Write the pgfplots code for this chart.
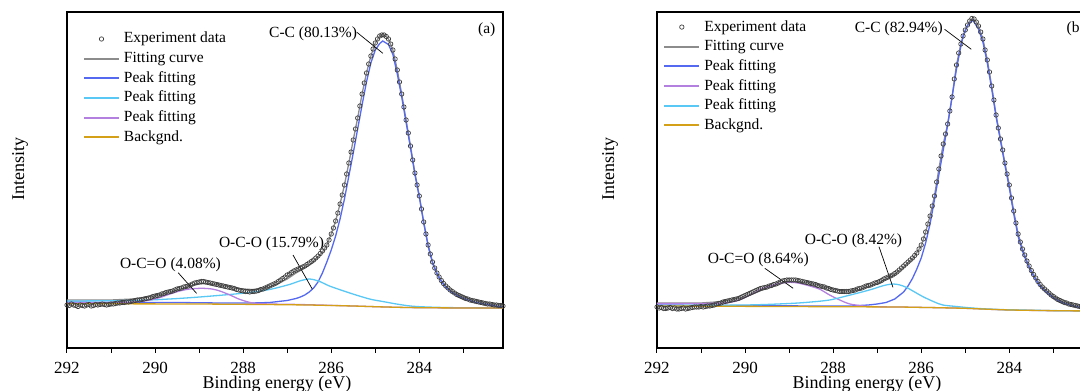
\documentclass[border=0pt]{standalone}
\usepackage{fontspec}
\setmainfont{Liberation Serif}
\usepackage{pgfplots}
\pgfplotsset{compat=1.18}
\definecolor{cblue}{RGB}{85,105,240}
\definecolor{clblue}{RGB}{90,200,245}
\definecolor{cpurple}{RGB}{180,128,224}
\definecolor{cgold}{RGB}{212,160,23}
\definecolor{cgray}{RGB}{140,140,140}
\newcommand{\annfont}{\fontsize{15.5}{15.5}\selectfont}
\newcommand{\tickfont}{\fontsize{17}{17}\selectfont}
\newcommand{\labfont}{\fontsize{18}{18}\selectfont}
\pgfplotsset{
  xps/.style={
    scale only axis, width=436pt, height=336pt, anchor=south west,
    x dir=reverse, xmin=282.1, xmax=292, ymin=0, ymax=336,
    xtick={284,286,288,290,292}, minor xtick={283,285,287,289,291},
    ytick=\empty, xtick pos=lower,
    tick align=outside, major tick length=5pt, minor tick length=5pt,
    axis line style={line width=1.2pt},
    every tick/.style={black, line width=1pt},
    every minor tick/.style={black, line width=1pt},
    tick label style={font=\tickfont},
    xticklabel style={yshift=-5.5pt},
    /pgf/number format/assume math mode=true,
    xlabel={Binding energy (eV)},
    xlabel style={font=\labfont, at={(axis description cs:0.4817,-0.122)}, anchor=base},
    ylabel={Intensity},
    ylabel style={font=\labfont, at={(axis description cs:-0.1078,0.534)}, anchor=center},
    legend cell align=left,
    legend image code/.code={\draw[##1, line width=2pt] (0pt,0pt) -- (35pt,0pt);},
    legend style={draw=none, fill=none, anchor=north west, inner sep=0pt, outer sep=0pt,
      row sep=5.65pt, column sep=4pt, font=\annfont,
      nodes={inner sep=0pt, text height=11pt, text depth=3pt}},
  },
  datleg/.style={only marks, mark=o, mark size=2.2pt, color=black!75, mark options={line width=0.7pt},
     legend image code/.code={\draw[##1] plot coordinates {(17.5pt,0pt)};}},
}
\begin{document}
\begin{tikzpicture}
\path[use as bounding box] (0pt,0pt) rectangle (1080pt,391pt);
\clip (0pt,0pt) rectangle (1080pt,391pt);
% ---------------- (a) ----------------
\begin{axis}[xps, at={(67pt,43pt)}, legend style={at={(axis description cs:0.0367,0.9405)}}]
\addlegendimage{datleg}
\addlegendentry{Experiment data}
\addplot[line width=1.3pt, no marks, color=cgray] coordinates {(292,48) (291,48) (290.5,49) (290,52) (289.5,58) (289.2,62) (289,64) (288.8,64.5) (288.6,63.5) (288.4,62) (288.2,60) (288,59) (287.8,58.5) (287.6,59) (287.4,61) (287.2,64.5) (287,69) (286.8,75) (286.6,80) (286.4,86) (286.2,96) (286.1,103) (286,114) (285.9,127) (285.8,144) (285.7,163) (285.6,185) (285.5,208) (285.4,230) (285.3,254) (285.2,275) (285.1,292) (285.0,305) (284.9,312) (284.83,313.5) (284.75,311.5) (284.7,309) (284.6,298) (284.5,278) (284.4,254) (284.3,228) (284.2,202) (284.1,175) (284.0,152) (283.9,126) (283.8,103) (283.7,86) (283.6,75) (283.5,67.5) (283.4,62) (283.3,58) (283.2,55) (283.0,51) (282.8,48) (282.6,46) (282.4,44) (282.1,42.5)};
\addlegendentry{Fitting curve}
\addplot[line width=1.3pt, no marks, color=cblue] coordinates {(292,46) (290.5,45.5) (289.5,45.5) (288.5,45) (287.8,45) (287.4,45.5) (287.2,46.5) (287.0,47.5) (286.8,49.5) (286.7,51) (286.6,53) (286.5,56) (286.4,60) (286.3,66) (286.2,75) (286.1,86) (286.0,98) (285.9,112) (285.8,129) (285.7,149) (285.6,172) (285.5,195) (285.4,219) (285.3,243) (285.2,266) (285.1,285) (285.0,298) (284.9,304.5) (284.83,307) (284.7,303.5) (284.6,293.5) (284.5,274) (284.4,251) (284.3,225.5) (284.2,200) (284.1,173.5) (284.0,151) (283.9,125) (283.8,102) (283.7,85) (283.6,74) (283.5,66.5) (283.4,61) (283.3,57) (283.2,54) (283.1,51.5) (283.0,49.5) (282.8,46.5) (282.6,44.5) (282.4,43) (282.2,41.5) (282.1,41)};
\addlegendentry{Peak fitting}
\addplot[line width=1.3pt, no marks, color=clblue, smooth, tension=0.5] coordinates {(292,47) (290.5,47.5) (289.67,49) (288.99,51) (288.31,53.5) (287.85,55.5) (287.40,58.5) (286.95,63.5) (286.72,67) (286.49,69) (286.26,66.5) (286.04,62) (285.58,55) (285.13,49) (284.83,46.5) (284.45,43.5) (284.07,41.5) (283.31,40.4) (282.11,40)};
\addlegendentry{Peak fitting}
\addplot[line width=1.3pt, no marks, color=cpurple, smooth, tension=0.5] coordinates {(292,45) (290.80,45.5) (290.34,46.5) (290.12,48) (289.89,50.5) (289.66,54) (289.44,57) (289.21,59) (288.94,59.7) (288.71,59) (288.53,57) (288.30,53) (288.07,48.5) (287.78,45) (287.40,44) (286.72,43.5) (285.5,42) (285,41.3) (284.5,40.7) (284,40.3) (283,40) (282.1,40)};
\addlegendentry{Peak fitting}
\addplot[line width=1.3pt, no marks, color=cgold] coordinates {(292,44.3) (289,44) (287.5,43.5) (286.5,43) (285.5,42) (285,41.3) (284.5,40.7) (284,40.3) (283,40) (282.1,40)};
\addlegendentry{Backgnd.}
\addplot[only marks, mark=o, mark size=2.2pt, color=black!75, mark options={line width=0.7pt}, forget plot] coordinates {
(292.00,43) (291.95,42.5) (291.90,44) (291.85,43) (291.80,42.5) (291.75,41.5) (291.70,43) (291.65,42.5) (291.60,42) (291.55,43) (291.50,43.5) (291.45,42) (291.40,42.5) (291.35,43.5) (291.30,43) (291.25,43.5) (291.20,44) (291.15,43.5) (291.10,43) (291.05,43.5) (291.00,44) (290.95,44) (290.90,44.5) (290.85,45) (290.80,45) (290.75,45.5) (290.70,45.5) (290.65,46) (290.60,46) (290.55,46.5) (290.50,47) (290.45,47.5) (290.40,48) (290.35,48) (290.30,48.5) (290.25,49) (290.20,49.5) (290.15,50) (290.10,50.5) (290.05,51.5) (290.00,52) (289.95,52.5) (289.90,53) (289.85,54) (289.80,54.5) (289.75,55.5) (289.70,56) (289.65,56.5) (289.60,57) (289.55,58) (289.50,59) (289.45,59.5) (289.40,60) (289.35,61) (289.30,61.5) (289.25,62) (289.20,63) (289.15,64) (289.10,65) (289.05,65.5) (289.00,66) (288.95,66.5) (288.90,66.5) (288.85,66) (288.80,65.5) (288.75,65) (288.70,64.5) (288.65,64) (288.60,63.5) (288.55,63) (288.50,62.5) (288.45,62) (288.40,61.5) (288.35,61) (288.30,60.5) (288.25,60) (288.20,59.5) (288.15,58.5) (288.10,58) (288.05,57.5) (288.00,57) (287.95,56.5) (287.90,56.5) (287.85,56) (287.80,56.5) (287.75,56.5) (287.70,57) (287.65,57.5) (287.60,58.5) (287.55,59) (287.50,60) (287.45,61) (287.40,62) (287.35,63) (287.30,64) (287.25,65) (287.20,66.5) (287.15,68) (287.10,69.5) (287.05,71) (287.00,73) (286.95,74) (286.90,75.5) (286.85,77) (286.80,78) (286.75,79) (286.70,80) (286.65,81) (286.60,82) (286.55,83.5) (286.50,85) (286.45,86.5) (286.40,88) (286.35,90) (286.30,92) (286.25,94.5) (286.20,97) (286.15,100) (286.10,103)
(286.05,108) (286.0,114) (285.95,120) (285.9,127) (285.85,135) (285.8,144) (285.75,153) (285.7,163) (285.65,174) (285.6,185) (285.55,196) (285.5,208) (285.45,219) (285.4,230) (285.35,242) (285.3,254) (285.25,265) (285.2,275) (285.15,284) (285.1,292) (285.05,299) (285.0,305) (284.95,309) (284.9,312) (284.85,313) (284.8,313) (284.75,311.5) (284.7,309) (284.65,304) (284.6,298) (284.55,289) (284.5,278) (284.45,266) (284.4,254) (284.35,241) (284.3,228) (284.25,215) (284.2,202) (284.15,188) (284.1,175) (284.05,163) (284.0,152) (283.95,139) (283.9,126) (283.85,114) (283.8,103) (283.75,94) (283.7,86) (283.65,80) (283.6,75) (283.55,71) (283.5,67.5) (283.45,64.5) (283.4,62) (283.35,60) (283.3,58) (283.25,56.5) (283.2,55) (283.15,53.5) (283.1,52.5) (283.05,51.5) (283.0,50.5) (282.95,49.5) (282.9,49) (282.85,48) (282.8,47.5) (282.75,47) (282.7,46.5) (282.65,46) (282.6,45.5) (282.55,45) (282.5,44.5) (282.45,44) (282.4,44) (282.35,43.5) (282.3,43) (282.25,43) (282.2,42.5) (282.15,42.5) (282.1,42)};
\node[anchor=base east, font=\annfont, inner sep=0pt] at (axis cs:285.41,310.3) {C-C (80.13\%)};
\draw[line width=0.7pt] (axis cs:285.417,315.7) -- (axis cs:284.828,294.7);
\node[anchor=base east, font=\annfont, inner sep=0pt] at (axis cs:282.27,314.5) {(a)};
\node[anchor=base west, font=\annfont, inner sep=0pt] at (axis cs:290.80,79) {O-C=O (4.08\%)};
\draw[line width=0.7pt] (axis cs:289.476,75.3) -- (axis cs:289.059,54.7);
\node[anchor=base west, font=\annfont, inner sep=0pt] at (axis cs:288.553,100.3) {O-C-O (15.79\%)};
\draw[line width=0.7pt] (axis cs:286.868,93) -- (axis cs:286.428,58.7);
\end{axis}
% ---------------- (b) ----------------
\begin{axis}[xps, at={(657pt,43pt)}, legend style={at={(axis description cs:0.0145,0.976)}}]
\addlegendimage{datleg}
\addlegendentry{Experiment data}
\addplot[line width=1.3pt, no marks, color=cgray] coordinates {(292,45) (291,45) (290.5,46.5) (290,51) (289.5,60) (289.2,64.5) (289,66.5) (288.8,66.5) (288.5,65) (288.2,61) (288,59) (287.8,57) (287.6,57) (287.4,58.5) (287.2,61.5) (287,64.5) (286.8,68.5) (286.6,73.5) (286.4,80.5) (286.2,89) (286.0,102) (285.9,116) (285.8,132) (285.7,152) (285.6,179) (285.5,204) (285.4,224) (285.3,251) (285.2,283) (285.1,304) (285.0,318) (284.9,327) (284.83,329.5) (284.75,326) (284.7,322) (284.6,309) (284.5,288) (284.4,262) (284.3,233) (284.2,209) (284.1,185) (284.0,163) (283.9,137) (283.8,114) (283.7,99) (283.6,87) (283.5,77.5) (283.4,70) (283.3,63.5) (283.2,59) (283.0,51.5) (282.8,46.5) (282.6,43.5) (282.4,41.5) (282.1,39.5)};
\addlegendentry{Fitting curve}
\addplot[line width=1.3pt, no marks, color=cblue] coordinates {(292,43) (290,42.5) (288.5,42) (287.6,42) (287.2,43) (287.0,44) (286.8,45.5) (286.6,49) (286.4,56) (286.3,62) (286.2,69.5) (286.1,79) (286.0,90) (285.9,105) (285.8,124) (285.7,148) (285.6,173) (285.5,198) (285.4,223) (285.3,251) (285.2,279) (285.1,302) (285.05,312) (284.95,322.5) (284.83,328) (284.7,319) (284.6,306) (284.5,285) (284.4,259) (284.3,231) (284.2,207) (284.1,183) (284.0,160) (283.9,134) (283.8,111.5) (283.7,97) (283.6,85) (283.5,76) (283.4,68.5) (283.3,62) (283.2,57.5) (283.1,53.5) (283.0,50) (282.9,47.5) (282.8,45.5) (282.6,42.5) (282.4,40.5) (282.1,38.5)};
\addlegendentry{Peak fitting}
\addplot[line width=1.3pt, no marks, color=cpurple, smooth, tension=0.5] coordinates {(292,44.5) (291,44.5) (290.5,45) (290.27,46.3) (290.1,48.5) (289.97,51.3) (289.8,55) (289.59,59.7) (289.4,62.5) (289.21,64.7) (288.98,65.7) (288.8,65) (288.61,63) (288.45,61) (288.30,58.7) (288.08,53) (287.85,48) (287.62,44) (287.3,42) (287,41.2) (286.5,41) (285.5,40.2) (285,39.7) (284.5,38.8) (284,38) (283,37.3) (282.1,37)};
\addlegendentry{Peak fitting}
\addplot[line width=1.3pt, no marks, color=clblue, smooth, tension=0.5] coordinates {(292,42.5) (290,43) (289,44.5) (288.5,46) (288.08,48) (287.7,52) (287.32,56.3) (287.1,59) (286.94,61.3) (286.8,63) (286.64,64) (286.5,63.2) (286.34,60.7) (286.15,56) (285.96,51.3) (285.7,46) (285.51,43) (285.2,41.5) (284.9,40.2) (284.5,39) (284,38.2) (283,37.4) (282.1,37)};
\addlegendentry{Peak fitting}
\addplot[line width=1.3pt, no marks, color=cgold] coordinates {(292,42) (288,41.3) (286.5,41) (285.5,40.2) (285,39.7) (284.5,38.8) (284,38) (283,37.3) (282.1,37)};
\addlegendentry{Backgnd.}
\addplot[only marks, mark=o, mark size=2.2pt, color=black!75, mark options={line width=0.7pt}, forget plot] coordinates {
(292.00,41) (291.95,40) (291.90,40.5) (291.85,39.5) (291.80,39.5) (291.75,40) (291.70,40.5) (291.65,39.5) (291.60,40) (291.55,39) (291.50,39) (291.45,39.5) (291.40,40) (291.35,39) (291.30,39.5) (291.25,40) (291.20,40.5) (291.15,41) (291.10,41) (291.05,41) (291.00,41.5) (290.95,41) (290.90,41.5) (290.85,42) (290.80,42) (290.75,42.5) (290.70,43) (290.65,44) (290.60,44.5) (290.55,45) (290.50,46) (290.45,46.5) (290.40,47) (290.35,47.5) (290.30,48) (290.25,48.5) (290.20,49) (290.15,49.5) (290.10,50.5) (290.05,51.5) (290.00,52.5) (289.95,53.5) (289.90,54.5) (289.85,55.5) (289.80,56.5) (289.75,57.5) (289.70,58.5) (289.65,59.5) (289.60,60) (289.55,60.5) (289.50,61) (289.45,62) (289.40,62.5) (289.35,63.5) (289.30,64) (289.25,65) (289.20,66) (289.15,67) (289.10,67.5) (289.05,68) (289.00,68) (288.95,68) (288.90,68) (288.85,68) (288.80,67.5) (288.75,67) (288.70,66.5) (288.65,66) (288.60,65.5) (288.55,65) (288.50,64.5) (288.45,64) (288.40,63.5) (288.35,62.5) (288.30,62) (288.25,61.5) (288.20,61) (288.15,60) (288.10,59.5) (288.05,58.5) (288.00,58) (287.95,57.5) (287.90,57) (287.85,56.5) (287.80,56.5) (287.75,56.5) (287.70,56.5) (287.65,56.5) (287.60,57) (287.55,57.5) (287.50,58) (287.45,59) (287.40,59.5) (287.35,60) (287.30,61) (287.25,62) (287.20,62.5) (287.15,63) (287.10,64) (287.05,65) (287.00,65.5) (286.95,66.5) (286.90,67.5) (286.85,69) (286.80,70) (286.75,71) (286.70,72) (286.65,73) (286.60,74.5) (286.55,76) (286.50,78) (286.45,80) (286.40,82) (286.35,84) (286.30,86) (286.25,88) (286.20,90) (286.15,92.5) (286.10,95)
(286.05,99) (286.0,103) (285.95,109) (285.9,116) (285.85,124) (285.8,132) (285.75,142) (285.7,152) (285.65,166) (285.6,179) (285.55,192) (285.5,204) (285.45,214) (285.4,224) (285.35,237) (285.3,251) (285.25,269) (285.2,283) (285.15,295) (285.1,304) (285.05,312) (285.0,318) (284.95,323) (284.9,327) (284.85,329.5) (284.8,329) (284.75,326) (284.7,322) (284.65,316) (284.6,309) (284.55,298) (284.5,288) (284.45,276) (284.4,262) (284.35,248) (284.3,233) (284.25,220) (284.2,209) (284.15,198) (284.1,185) (284.05,174) (284.0,163) (283.95,150) (283.9,137) (283.85,125) (283.8,114) (283.75,106) (283.7,99) (283.65,93) (283.6,87) (283.55,82) (283.5,77.5) (283.45,73.5) (283.4,70) (283.35,66.5) (283.3,63.5) (283.25,61) (283.2,59) (283.15,57) (283.1,55) (283.05,53) (283.0,51.5) (282.95,50) (282.9,48.5) (282.85,47.5) (282.8,46.5) (282.75,45.5) (282.7,45) (282.65,44) (282.6,43.5) (282.55,43) (282.5,42.5) (282.45,42) (282.4,41.5) (282.35,41) (282.3,40.5) (282.25,40) (282.2,40) (282.15,39.5) (282.1,39.5)};
\node[anchor=base east, font=\annfont, inner sep=0pt] at (axis cs:285.508,315.7) {C-C (82.94\%)};
\draw[line width=0.7pt] (axis cs:285.469,318.7) -- (axis cs:284.864,298.7);
\node[anchor=base west, font=\annfont, inner sep=0pt] at (axis cs:282.703,315.7) {(b)};
\node[anchor=base west, font=\annfont, inner sep=0pt] at (axis cs:290.85,84) {O-C=O (8.64\%)};
\draw[line width=0.7pt] (axis cs:289.551,79.7) -- (axis cs:288.909,59.7);
\node[anchor=base east, font=\annfont, inner sep=0pt] at (axis cs:286.429,103.7) {O-C-O (8.42\%)};
\draw[line width=0.7pt] (axis cs:286.959,101.3) -- (axis cs:286.642,60.7);
\end{axis}
\end{tikzpicture}
\end{document}
